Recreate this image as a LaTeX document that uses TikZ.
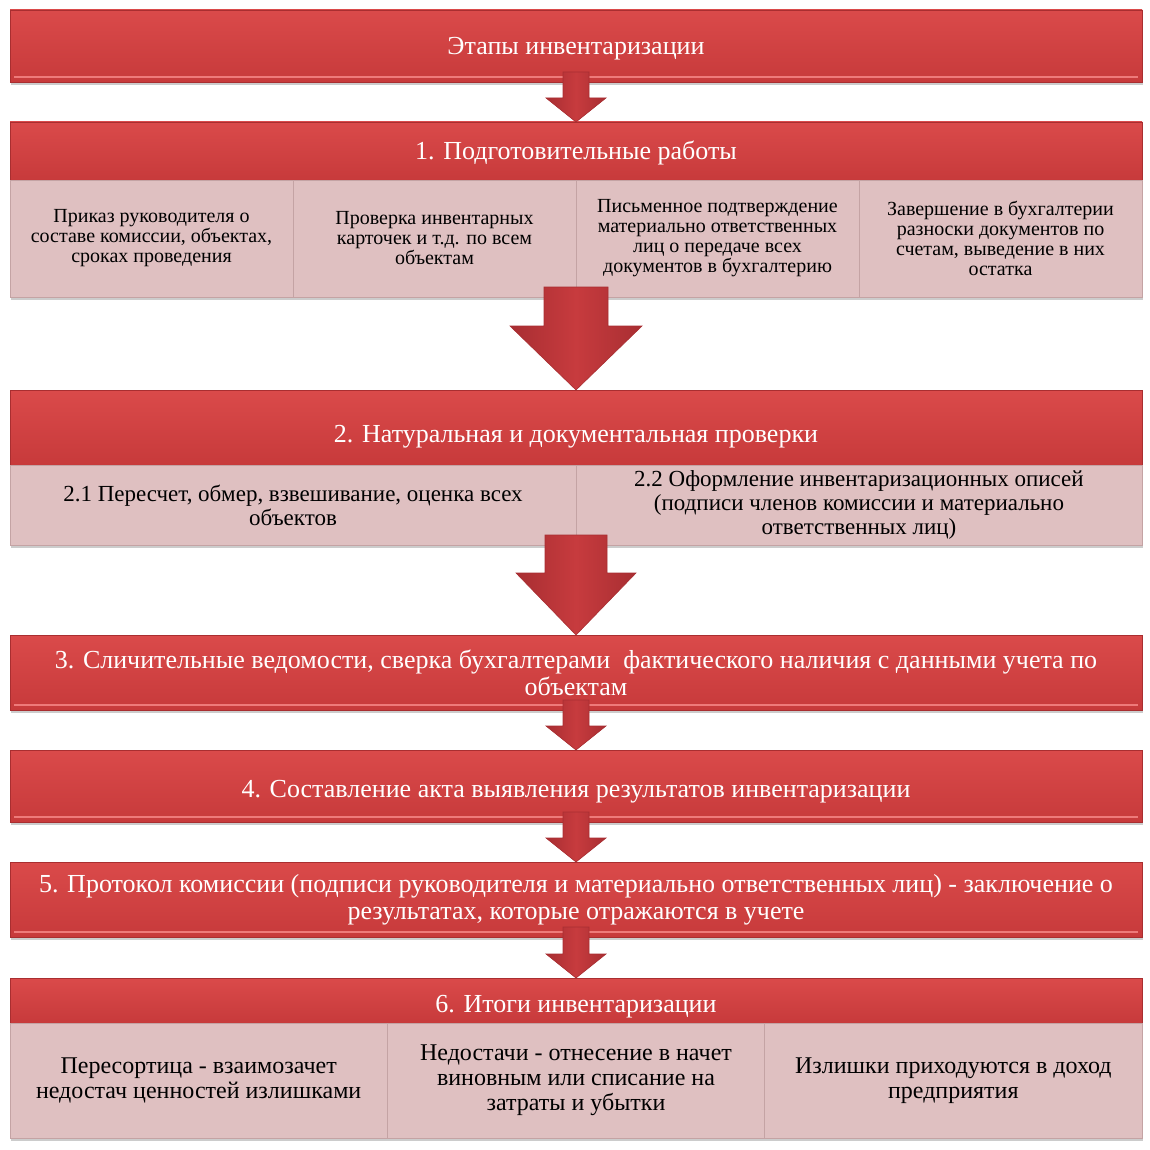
\documentclass[tikz,border=0pt]{standalone}
\usepackage{fontspec}
\setmainfont{Liberation Serif}
\usetikzlibrary{calc,positioning,shadows}

\definecolor{hdrred}{HTML}{D44242}
\definecolor{hdrtop}{HTML}{DA4A4A}
\definecolor{hdrbot}{HTML}{C73A3B}
\definecolor{hdrdark}{HTML}{A92E30}
\definecolor{hilite}{HTML}{EE7A7A}
\definecolor{cellpink}{HTML}{DFC0C1}
\definecolor{celledge}{HTML}{C4A3A4}
\definecolor{arrred}{HTML}{C73B3E}
\definecolor{arrdark}{HTML}{A82E32}

% fat arrow from one anchor down to another
\newcommand{\stagearrow}[5]{%
  \path[arr] ($(#1)+(-#3,10)$) -- ($(#2)+(-#3,#5)$) -- ($(#2)+(-#4,#5)$)
    -- (#2) -- ($(#2)+(#4,#5)$) -- ($(#2)+(#3,#5)$) -- ($(#1)+(#3,10)$) -- cycle;}

\begin{document}
\begin{tikzpicture}[x=1pt,y=1pt,
  hdr/.style={top color=hdrtop,bottom color=hdrbot,draw=hdrdark,text=white,align=center,inner sep=2pt,outer sep=0pt,
    minimum width=1132pt,drop shadow={shadow xshift=1pt,shadow yshift=-3pt,fill=black!40}},
  bevel/.style={path picture={\draw[hilite,line width=2pt]
    ($(path picture bounding box.south west)+(4,5)$) -- ($(path picture bounding box.south east)+(-4,5)$);}},
  cell/.style={fill=cellpink,draw=celledge,text=black,align=center,inner sep=2pt,outer sep=0pt,
    drop shadow={shadow xshift=1pt,shadow yshift=-3pt,fill=black!40}},
  arr/.style={left color=arrdark,right color=arrdark,middle color=arrred,draw=arrdark,line width=0.6pt},
  big/.style={font=\fontsize{26}{27}\selectfont}]
  \useasboundingbox (0,0) rectangle (1149,-1150);

  \node[hdr,bevel,big,minimum height=72pt,text height=24pt,text depth=6pt] (title) at (576,-46) {Этапы инвентаризации};

  % 1
  \node[hdr,big,minimum height=58pt,text height=24pt,text depth=6pt] (s1) at (576,-151) {1. Подготовительные работы};
  \begin{scope}[every node/.style={cell,minimum width=283pt,minimum height=117pt,font=\fontsize{20}{20}\selectfont}]
    \node[anchor=north west] (c11) at (s1.south west) {Приказ руководителя о\\составе комиссии, объектах,\\сроках проведения};
    \node[right=0pt of c11] (c12) {Проверка инвентарных\\карточек и т.д. по всем\\объектам};
    \node[right=0pt of c12] (c13) {Письменное подтверждение\\материально ответственных\\лиц о передаче всех\\документов в бухгалтерию};
    \node[right=0pt of c13] (c14) {Завершение в бухгалтерии\\разноски документов по\\счетам, выведение в них\\остатка};
  \end{scope}

  % 2
  \node[hdr,big,minimum height=75pt,text height=36pt,text depth=6pt] (s2) at (576,-427.5) {2. Натуральная и документальная проверки};
  \begin{scope}[every node/.style={cell,minimum width=566pt,minimum height=80pt,font=\fontsize{23}{24}\selectfont}]
    \node[anchor=north west] (c21) at (s2.south west) {2.1 Пересчет, обмер, взвешивание, оценка всех\\объектов};
    \node[right=0pt of c21] (c22) {2.2 Оформление инвентаризационных описей\\(подписи членов комиссии и материально\\ответственных лиц)};
  \end{scope}

  % 3-5
  \node[hdr,bevel,big,minimum height=75pt] (s3) at (576,-672.5) {3. Сличительные ведомости, сверка бухгалтерами\ \ фактического наличия с данными учета по\\объектам};
  \node[hdr,bevel,big,minimum height=72pt,text height=28pt,text depth=6pt] (s4) at (576,-786) {4. Составление акта выявления результатов инвентаризации};
  \node[hdr,bevel,big,minimum height=75pt] (s5) at (576,-899.5) {5. Протокол комиссии (подписи руководителя и материально ответственных лиц) - заключение о\\результатах, которые отражаются в учете};

  % 6
  \node[hdr,big,minimum height=45pt,text height=30pt,text depth=6pt] (s6) at (576,-1000.5) {6. Итоги инвентаризации};
  \begin{scope}[every node/.style={cell,minimum width=377.33pt,minimum height=115pt,font=\fontsize{24}{25}\selectfont}]
    \node[anchor=north west] (c61) at (s6.south west) {Пересортица - взаимозачет\\недостач ценностей излишками};
    \node[right=0pt of c61] (c62) {Недостачи - отнесение в начет\\виновным или списание на\\затраты и убытки};
    \node[right=0pt of c62] (c63) {Излишки приходуются в доход\\предприятия};
  \end{scope}

  \stagearrow{title.south}{s1.north}{13}{30}{24}
  \stagearrow{c12.south east}{s2.north}{32}{66}{64}
  \stagearrow{c21.south east}{s3.north}{31}{60}{62}
  \stagearrow{s3.south}{s4.north}{13}{30}{24}
  \stagearrow{s4.south}{s5.north}{13}{30}{24}
  \stagearrow{s5.south}{s6.north}{13}{30}{24}
\end{tikzpicture}
\end{document}
